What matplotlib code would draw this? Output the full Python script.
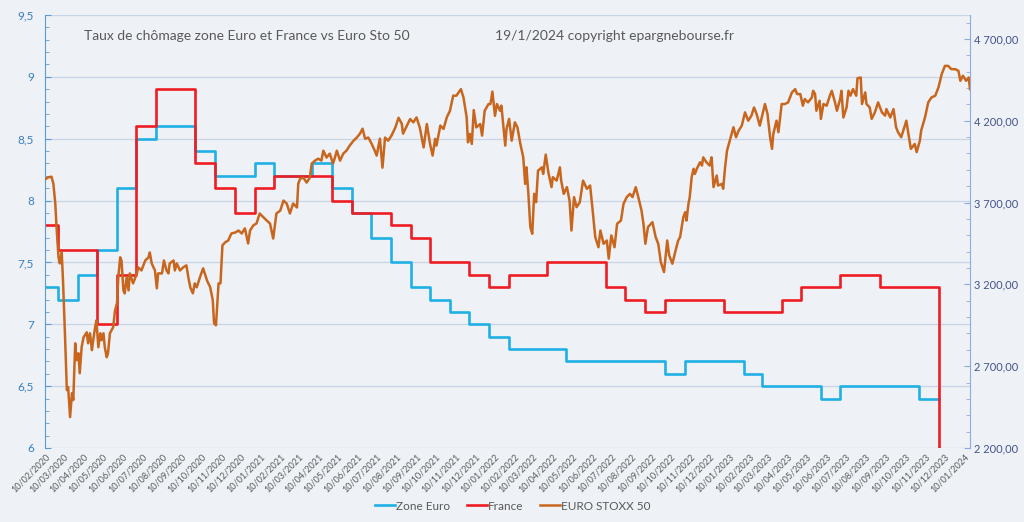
import numpy as np
import pandas as pd
import matplotlib
matplotlib.use("Agg")
from matplotlib import pyplot as plt
import matplotlib.dates as mdates
from matplotlib.ticker import MultipleLocator, FuncFormatter, FixedLocator

# taux de chomage mensuels (fev 2020 -> nov/dec 2023)
zone_euro = [7.3, 7.2, 7.4, 7.6, 8.1, 8.5, 8.6, 8.6, 8.4, 8.2, 8.2,
             8.3, 8.2, 8.2, 8.3, 8.1, 7.9, 7.7, 7.5, 7.3, 7.2, 7.1, 7.0,
             6.9, 6.8, 6.8, 6.8, 6.7, 6.7, 6.7, 6.7, 6.7, 6.6, 6.7, 6.7,
             6.7, 6.6, 6.5, 6.5, 6.5, 6.4, 6.5, 6.5, 6.5, 6.5, 6.4]
france = [7.8, 7.6, 7.6, 7.0, 7.4, 8.6, 8.9, 8.9, 8.3, 8.1, 7.9,
          8.1, 8.2, 8.2, 8.2, 8.0, 7.9, 7.9, 7.8, 7.7, 7.5, 7.5, 7.4,
          7.3, 7.4, 7.4, 7.5, 7.5, 7.5, 7.3, 7.2, 7.1, 7.2, 7.2, 7.2,
          7.1, 7.1, 7.1, 7.2, 7.3, 7.3, 7.4, 7.4, 7.3, 7.3, 7.3, 0.0]

stoxx_dates = [
    "2020-02-12", "2020-02-15", "2020-02-20", "2020-02-23", "2020-02-26", "2020-02-28",
    "2020-03-02", "2020-03-04", "2020-03-07", "2020-03-09", "2020-03-12", "2020-03-15",
    "2020-03-17", "2020-03-20", "2020-03-23", "2020-03-25", "2020-03-28", "2020-03-30",
    "2020-04-02", "2020-04-04", "2020-04-07", "2020-04-10", "2020-04-15", "2020-04-17",
    "2020-04-20", "2020-04-23", "2020-04-25", "2020-04-28", "2020-04-30",
    "2020-05-03", "2020-05-06", "2020-05-08", "2020-05-11", "2020-05-13", "2020-05-16",
    "2020-05-18", "2020-05-21", "2020-05-26", "2020-05-29",
    "2020-06-01", "2020-06-03", "2020-06-06", "2020-06-08", "2020-06-11", "2020-06-13",
    "2020-06-16", "2020-06-19", "2020-06-21", "2020-06-26",
    "2020-07-02", "2020-07-04", "2020-07-09", "2020-07-15", "2020-07-20", "2020-07-22",
    "2020-07-25", "2020-07-30",
    "2020-08-02", "2020-08-04", "2020-08-10", "2020-08-13", "2020-08-17", "2020-08-20",
    "2020-08-22", "2020-08-28", "2020-08-30",
    "2020-09-02", "2020-09-07", "2020-09-12", "2020-09-17", "2020-09-20", "2020-09-23",
    "2020-09-27", "2020-09-30",
    "2020-10-03", "2020-10-08", "2020-10-13", "2020-10-19", "2020-10-24", "2020-10-28",
    "2020-10-30",
    "2020-11-02", "2020-11-06", "2020-11-09", "2020-11-12", "2020-11-16", "2020-11-21",
    "2020-11-26",
    "2020-12-02", "2020-12-07", "2020-12-12", "2020-12-17", "2020-12-22", "2020-12-25",
    "2020-12-30",
    "2021-01-04", "2021-01-09", "2021-01-15", "2021-01-20", "2021-01-25", "2021-01-30",
    "2021-02-04", "2021-02-10", "2021-02-15", "2021-02-20", "2021-02-25",
    "2021-03-02", "2021-03-08", "2021-03-10", "2021-03-13", "2021-03-18", "2021-03-23",
    "2021-03-28", "2021-03-31",
    "2021-04-05", "2021-04-10", "2021-04-15", "2021-04-18", "2021-04-23", "2021-04-28",
    "2021-05-03", "2021-05-06", "2021-05-09", "2021-05-14", "2021-05-19", "2021-05-24",
    "2021-05-29",
    "2021-06-04", "2021-06-09", "2021-06-14", "2021-06-18", "2021-06-22", "2021-06-27",
    "2021-07-02", "2021-07-07", "2021-07-10", "2021-07-15", "2021-07-19", "2021-07-23",
    "2021-07-28",
    "2021-08-02", "2021-08-08", "2021-08-13", "2021-08-18", "2021-08-20", "2021-08-26",
    "2021-08-31",
    "2021-09-05", "2021-09-10", "2021-09-15", "2021-09-21", "2021-09-26",
    "2021-10-01", "2021-10-05", "2021-10-09", "2021-10-11", "2021-10-17", "2021-10-22",
    "2021-10-27",
    "2021-11-01", "2021-11-06", "2021-11-11", "2021-11-18", "2021-11-22", "2021-11-27",
    "2021-11-29",
    "2021-12-02", "2021-12-05", "2021-12-08", "2021-12-12", "2021-12-18", "2021-12-21",
    "2021-12-25", "2021-12-31",
    "2022-01-03", "2022-01-06", "2022-01-10", "2022-01-13", "2022-01-18", "2022-01-20",
    "2022-01-26", "2022-01-28",
    "2022-02-01", "2022-02-05", "2022-02-10", "2022-02-14", "2022-02-18", "2022-02-23",
    "2022-02-26", "2022-02-28",
    "2022-03-03", "2022-03-06", "2022-03-09", "2022-03-12", "2022-03-15", "2022-03-18",
    "2022-03-24", "2022-03-26", "2022-03-30",
    "2022-04-03", "2022-04-08", "2022-04-10", "2022-04-16", "2022-04-21", "2022-04-23",
    "2022-04-27",
    "2022-05-02", "2022-05-06", "2022-05-09", "2022-05-13", "2022-05-17", "2022-05-22",
    "2022-05-27",
    "2022-06-02", "2022-06-07", "2022-06-11", "2022-06-15", "2022-06-20", "2022-06-23",
    "2022-06-28",
    "2022-07-03", "2022-07-06", "2022-07-10", "2022-07-15", "2022-07-19", "2022-07-25",
    "2022-07-29",
    "2022-08-03", "2022-08-08", "2022-08-12", "2022-08-17", "2022-08-21", "2022-08-26",
    "2022-08-29",
    "2022-09-01", "2022-09-05", "2022-09-12", "2022-09-17", "2022-09-21", "2022-09-25",
    "2022-09-30",
    "2022-10-05", "2022-10-08", "2022-10-13", "2022-10-18", "2022-10-22", "2022-10-25",
    "2022-10-30",
    "2022-11-02", "2022-11-04", "2022-11-07", "2022-11-09", "2022-11-12", "2022-11-15",
    "2022-11-17", "2022-11-20", "2022-11-25", "2022-11-28", "2022-11-30",
    "2022-12-05", "2022-12-10", "2022-12-13", "2022-12-16", "2022-12-21", "2022-12-23",
    "2022-12-29", "2022-12-31",
    "2023-01-03", "2023-01-06", "2023-01-11", "2023-01-16", "2023-01-20", "2023-01-24",
    "2023-01-29",
    "2023-02-03", "2023-02-08", "2023-02-13", "2023-02-17", "2023-02-21", "2023-02-26",
    "2023-03-03", "2023-03-06", "2023-03-10", "2023-03-14", "2023-03-17", "2023-03-19",
    "2023-03-24", "2023-03-27",
    "2023-04-01", "2023-04-06", "2023-04-11", "2023-04-17", "2023-04-22", "2023-04-25",
    "2023-04-30",
    "2023-05-04", "2023-05-07", "2023-05-12", "2023-05-18", "2023-05-20", "2023-05-23",
    "2023-05-25", "2023-05-30",
    "2023-06-01", "2023-06-05", "2023-06-10", "2023-06-15", "2023-06-18", "2023-06-23",
    "2023-06-26",
    "2023-07-01", "2023-07-03", "2023-07-06", "2023-07-11", "2023-07-14", "2023-07-17",
    "2023-07-21", "2023-07-26", "2023-07-28",
    "2023-08-02", "2023-08-04", "2023-08-09", "2023-08-11", "2023-08-16", "2023-08-19",
    "2023-08-24", "2023-08-29",
    "2023-09-04", "2023-09-09", "2023-09-11", "2023-09-17", "2023-09-22", "2023-09-26",
    "2023-09-29",
    "2023-10-04", "2023-10-08", "2023-10-12", "2023-10-16", "2023-10-19", "2023-10-25",
    "2023-10-28",
    "2023-11-02", "2023-11-04", "2023-11-10", "2023-11-15", "2023-11-20", "2023-11-26",
    "2023-12-01", "2023-12-06", "2023-12-11", "2023-12-16", "2023-12-21", "2023-12-27",
    "2024-01-01", "2024-01-04", "2024-01-08", "2024-01-13", "2024-01-17", "2024-01-19",
]
stoxx_values = [
    3846, 3854, 3858, 3816, 3694, 3548,
    3365, 3328, 3395, 3224, 2901, 2554, 2572, 2389, 2535, 2493, 2840, 2737,
    2779, 2657, 2816, 2877, 2907, 2840, 2901, 2798, 2859, 2938, 2980,
    2816, 2901, 2859, 2901, 2816, 2755, 2779, 2901, 2938, 3042,
    3084, 3243, 3365, 3346, 3163, 3145, 3243, 3163, 3267, 3206,
    3267, 3304, 3285, 3346, 3365, 3395, 3328, 3285,
    3176, 3267, 3267, 3346, 3285, 3267, 3328, 3346, 3285,
    3328, 3285, 3304, 3316, 3243, 3182, 3145, 3206,
    3182, 3243, 3298, 3224, 3182, 3103, 2962,
    2950, 3206, 3206, 3438, 3456, 3468, 3511,
    3517, 3529, 3511, 3542, 3450, 3529, 3560,
    3572, 3633, 3609, 3590, 3572, 3480,
    3633, 3651, 3712, 3694, 3633,
    3694, 3670, 3816, 3846, 3852, 3822, 3852, 3938,
    3956, 3968, 3956, 4017, 3975, 3999,
    3938, 3975, 4017, 3956, 3999, 4017, 4048,
    4078, 4097, 4121, 4151, 4090, 4097,
    4060, 4017, 3987, 4090, 3913, 4097, 4078,
    4109, 4158, 4218, 4182, 4121, 4170, 4210,
    4190, 4220, 4159, 4037, 4180,
    4058, 3987, 4089, 4048, 4170, 4150, 4220,
    4261, 4353, 4353, 4393, 4342, 4220, 4068,
    4119, 4058, 4265, 4159, 4180, 4109, 4261, 4302,
    4302, 4378, 4230, 4302, 4261, 4292, 4048, 4150,
    4211, 4078, 4190, 4159, 4068, 3976, 3814, 3915,
    3753, 3550, 3509, 3753, 3702, 3895, 3915, 3875, 3993,
    3885, 3794, 3855, 3834, 3915, 3834, 3753,
    3794, 3712, 3529, 3733, 3672, 3702, 3834,
    3784, 3804, 3651, 3489, 3427, 3529, 3448,
    3468, 3357, 3499, 3427, 3570, 3590, 3692,
    3733, 3753, 3733, 3794, 3733, 3651, 3570,
    3448, 3550, 3580, 3489, 3448, 3336, 3275,
    3468, 3377, 3326, 3407, 3468, 3489, 3611,
    3641, 3590, 3692, 3733, 3855, 3906, 3875, 3906, 3946, 3926, 3976,
    3946, 3926, 3976, 3794, 3865, 3804, 3814, 3784,
    3915, 4017, 4089, 4160, 4099, 4139, 4170,
    4251, 4200, 4231, 4281, 4241, 4170,
    4251, 4302, 4241, 4099, 4028, 4119, 4200, 4130,
    4302, 4302, 4312, 4373, 4393, 4363, 4363,
    4292, 4332, 4312, 4342, 4383, 4363, 4261, 4322,
    4211, 4302, 4292, 4353, 4383, 4312, 4261,
    4332, 4383, 4220, 4281, 4383, 4353, 4393, 4353, 4460,
    4464, 4302, 4373, 4302, 4281, 4211, 4251, 4312,
    4251, 4231, 4271, 4220, 4271, 4160, 4130,
    4099, 4150, 4200, 4099, 4028, 4058, 4008,
    4078, 4139, 4220, 4312, 4342, 4353,
    4404, 4485, 4535, 4535, 4515, 4515,
    4505, 4444, 4475, 4444, 4464, 4393,
]

start = pd.Timestamp("2020-02-10")
end = pd.Timestamp("2024-01-19")
months = [start] + list(pd.date_range("2020-03-01", "2023-12-01", freq="MS"))
tick_dates = pd.date_range("2020-02-01", "2024-01-01", freq="MS") + pd.Timedelta(days=9)

plt.rcParams['font.family'] = ['Lato', 'DejaVu Sans']

bg = '#EEF1F5'
c_eu = '#1FB0E4'
c_fr = '#EE1D23'
c_st = '#C8661E'

fig = plt.figure(figsize=(10.24, 5.22), dpi=100, facecolor=bg)
ax = fig.add_axes([45/1024, 1-448/522, 925/1024, 433/522])
ax.set_facecolor('none')
ax2 = ax.twinx()

# steps : chaque valeur tient jusqu'au debut du mois suivant
x_eu = months[:len(zone_euro)] + [months[len(zone_euro)]]
ax.step(x_eu, zone_euro + [zone_euro[-1]], where='post', color=c_eu, lw=1.9, label='Zone Euro')
x_fr = months[:len(france)] + [end]
ax.step(x_fr, france + [france[-1]], where='post', color=c_fr, lw=1.9, label='France')

ax2.plot(pd.to_datetime(stoxx_dates), stoxx_values, color=c_st, lw=1.8, label='EURO STOXX 50')

ax.set_ylim(6, 9.5)
ax2.set_ylim(2200, 4846)
ax.set_xlim(start, end)

ax.yaxis.set_major_locator(MultipleLocator(0.5))
ax.yaxis.set_minor_locator(MultipleLocator(0.1))
ax.yaxis.set_major_formatter(FuncFormatter(lambda v, p: f"{v:g}".replace(".", ",")))
ax.tick_params(axis='y', which='major', direction='in', length=4, color='#5B9BD5',
               labelcolor='#3A7FC0', labelsize=8.5, pad=8)
ax.tick_params(axis='y', which='minor', direction='in', length=3, color='#5B9BD5')
ax.grid(axis='y', which='major', color='#C8D4E8', lw=0.9)

ax2.yaxis.set_major_locator(FixedLocator([2200, 2700, 3200, 3700, 4200, 4700]))
ax2.yaxis.set_minor_locator(MultipleLocator(100))
ax2.yaxis.set_major_formatter(FuncFormatter(lambda v, p: f"{v:,.2f}".replace(",", " ").replace(".", ",")))
ax2.tick_params(axis='y', which='major', direction='in', length=4, color='#8FAADC',
                labelcolor='#44548A', labelsize=8, pad=3)
ax2.tick_params(axis='y', which='minor', direction='in', length=3, color='#8FAADC')

ax.set_xticks(tick_dates)
ax.xaxis.set_major_formatter(mdates.DateFormatter('%d/%m/%Y'))
ax.tick_params(axis='x', length=0, labelsize=6.5, labelcolor='#595959', pad=3)
for lab in ax.get_xticklabels():
    lab.set_rotation(45)
    lab.set_ha('right')
    lab.set_va('top')
    lab.set_rotation_mode('anchor')

for s in ['top', 'bottom', 'right']:
    ax.spines[s].set_visible(False)
for s in ['top', 'bottom', 'left']:
    ax2.spines[s].set_visible(False)
ax.spines['left'].set_color('#5B9BD5')
ax2.spines['right'].set_color('#8FAADC')

fig.text(84/1024, 1-36/522, "Taux de chômage zone Euro et France vs Euro Sto 50",
         fontsize=10, color='#595959', va='center')
fig.text(495/1024, 1-36/522, "19/1/2024 copyright epargnebourse.fr",
         fontsize=10, color='#595959', va='center')

h1, l1 = ax.get_legend_handles_labels()
h2, l2 = ax2.get_legend_handles_labels()
fig.legend(h1 + h2, l1 + l2, loc='center', bbox_to_anchor=(513/1024, 1-506/522), ncol=3,
           frameon=False, fontsize=8.5, handlelength=1.7, handletextpad=0.1,
           columnspacing=1.4, labelcolor='#595959')

fig.savefig('out.png', dpi=100, facecolor=bg)
